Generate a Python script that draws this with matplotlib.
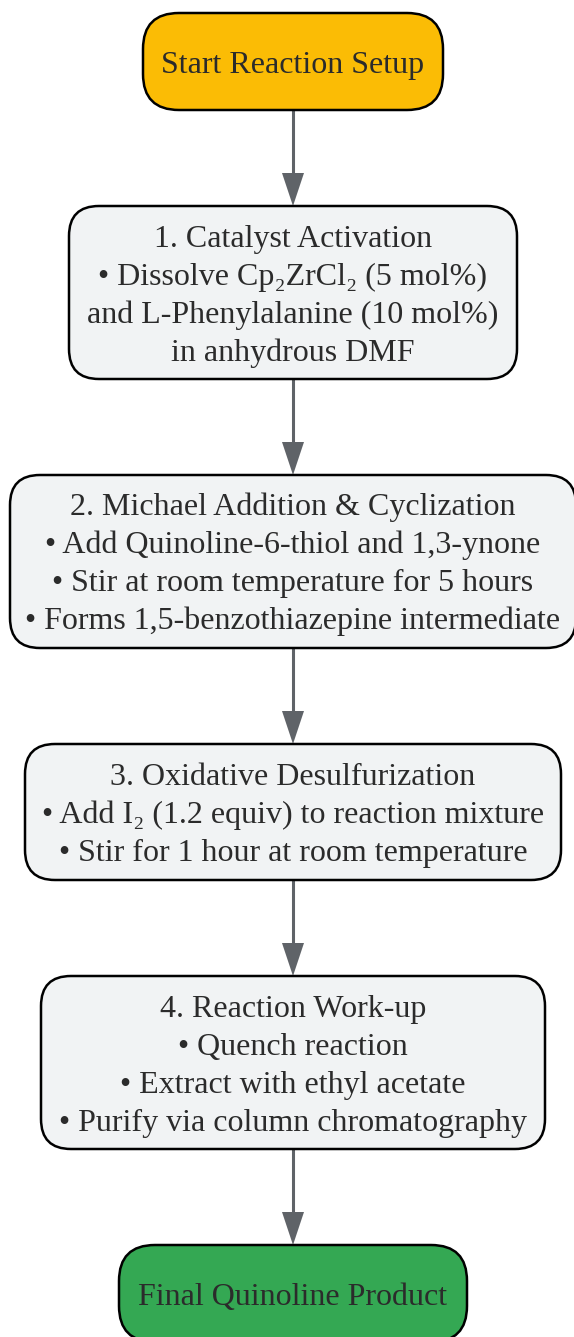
import matplotlib.pyplot as plt
from matplotlib.patches import FancyBboxPatch, Polygon

# flowchart content
step_lines = [
    ["Start Reaction Setup"],
    ["1. Catalyst Activation",
     "• Dissolve Cp₂ZrCl₂ (5 mol%)",
     "and L-Phenylalanine (10 mol%)",
     "in anhydrous DMF"],
    ["2. Michael Addition & Cyclization",
     "• Add Quinoline-6-thiol and 1,3-ynone",
     "• Stir at room temperature for 5 hours",
     "• Forms 1,5-benzothiazepine intermediate"],
    ["3. Oxidative Desulfurization",
     "• Add I₂ (1.2 equiv) to reaction mixture",
     "• Stir for 1 hour at room temperature"],
    ["4. Reaction Work-up",
     "• Quench reaction",
     "• Extract with ethyl acetate",
     "• Purify via column chromatography"],
    ["Final Quinoline Product"],
]
step_colors = ["#fbbc05", "#f1f3f4", "#f1f3f4", "#f1f3f4", "#f1f3f4", "#34a853"]

# layout (pixels)
W, H = 574, 1337
cx = 293
box_tops = [13, 206, 475, 744, 976, 1245]
box_heights = [97, 173, 173, 136, 173, 97]
box_widths = [300, 448, 566, 536, 504, 348]
box_radii = [36, 30, 30, 30, 30, 36]
line_gap = 38
text_color = "#2b2b2b"
arrow_color = "#5f6368"
fonts = ["Liberation Serif", "DejaVu Serif"]

fig = plt.figure(figsize=(W / 100, H / 100), dpi=100)
ax = fig.add_axes([0, 0, 1, 1])
ax.set_xlim(0, W)
ax.set_ylim(H, 0)
ax.axis("off")

for lines, color, top, h, w, r in zip(step_lines, step_colors, box_tops,
                                      box_heights, box_widths, box_radii):
    box = FancyBboxPatch((cx - w / 2, top), w, h,
                         boxstyle=f"round,pad=0,rounding_size={r}",
                         facecolor=color, edgecolor="black", linewidth=1.8, zorder=2)
    ax.add_patch(box)
    center = top + h / 2
    n = len(lines)
    for i, line in enumerate(lines):
        y = center + (i - (n - 1) / 2) * line_gap + 11
        ax.text(cx, y, line, ha="center", va="baseline", fontsize=23,
                family=fonts, color=text_color, zorder=3)

# arrows between boxes
for i in range(len(box_tops) - 1):
    y0 = box_tops[i] + box_heights[i]
    y1 = box_tops[i + 1]
    ax.plot([cx, cx], [y0, y1 - 30], color=arrow_color, lw=2.2, zorder=1,
            solid_capstyle="butt")
    ax.add_patch(Polygon([[cx - 11, y1 - 33], [cx + 11, y1 - 33], [cx, y1]],
                         closed=True, facecolor=arrow_color, edgecolor="none", zorder=1))

fig.savefig("out.png", dpi=100)
